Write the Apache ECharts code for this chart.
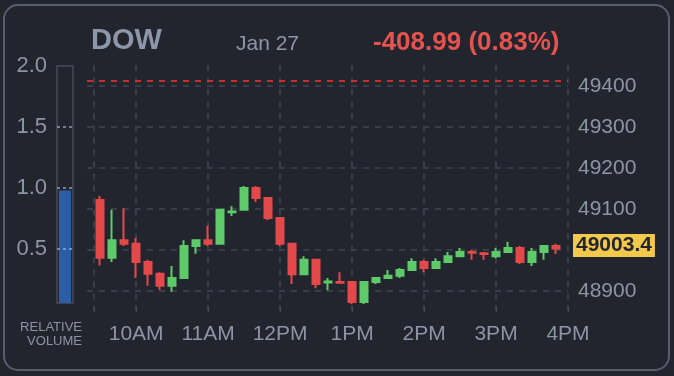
<!DOCTYPE html>
<html>
<head>
<meta charset="utf-8">
<script src="https://cdn.jsdelivr.net/npm/echarts@6/dist/echarts.min.js"></script>
<style>
  html, body { margin: 0; padding: 0; background: #22252e; }
  #main { width: 674px; height: 376px; }
</style>
</head>
<body>
<div id="main"></div>
<script>
// 10 minute candles, 9:30 to 15:50
const times = ['9:30', '9:40', '9:50', '10:00', '10:10', '10:20', '10:30', '10:40', '10:50',
  '11:00', '11:10', '11:20', '11:30', '11:40', '11:50', '12:00', '12:10', '12:20', '12:30',
  '12:40', '12:50', '13:00', '13:10', '13:20', '13:30', '13:40', '13:50', '14:00', '14:10',
  '14:20', '14:30', '14:40', '14:50', '15:00', '15:10', '15:20', '15:30', '15:40', '15:50']
const opens = [49122, 48981, 49024, 49015, 48971, 48942, 48913, 48932, 49010,
  49024, 49015, 49092, 49098, 49151, 49127, 49078, 49015, 48941, 48976,
  48921, 48922, 48922, 48873, 48922, 48932, 48937, 48951, 48971, 48956,
  48971, 48985, 48995, 48992, 48985, 48995, 49005, 48971, 48995, 49010]
const closes = [48981, 49024, 49015, 48971, 48942, 48913, 48932, 49010, 49024,
  49015, 49098, 49094, 49151, 49127, 49078, 49015, 48941, 48976, 48917,
  48923, 48920, 48873, 48922, 48932, 48937, 48951, 48971, 48956, 48971,
  48985, 48995, 48993, 48990, 48995, 49005, 48971, 48995, 49010, 49003.4]
const lows = [48962, 48971, 49010, 48932, 48913, 48903, 48898, 48932, 48991,
  49010, 49015, 49083, 49098, 49117, 49073, 49010, 48917, 48941, 48907,
  48902, 48920, 48868, 48868, 48917, 48932, 48932, 48951, 48946, 48956,
  48971, 48985, 48976, 48976, 48980, 48995, 48966, 48961, 48976, 48990]
const highs = [49132, 49098, 49102, 49029, 48976, 48946, 48961, 49024, 49024,
  49059, 49098, 49107, 49156, 49156, 49127, 49078, 49015, 48985, 48976,
  48932, 48946, 48922, 48922, 48932, 48951, 48956, 48980, 48976, 48980,
  48995, 49005, 49000, 48995, 49005, 49020, 49010, 49005, 49010, 49015]

const priceTicks = [48900, 49000, 49100, 49200, 49300, 49400]
const hourTicks = ['10:00', '11:00', '12:00', '13:00', '14:00', '15:00', '16:00']
const volumeTicks = [0.5, 1.0, 1.5, 2.0]

const symbol = 'DOW'
const dateText = 'Jan 27'
const changeText = '-408.99 (0.83%)'
const prevClose = 49412.39
const lastPrice = 49003.4
const relativeVolume = 0.98

const font = 'Liberation Sans, Arial, sans-serif'
const labelColor = '#8d94a6'
const gridColor = '#393d49'
const up = '#5fca6a'
const down = '#e4494a'

function toMin(t) {
  const p = t.split(':')
  return +p[0] * 60 + +p[1]
}
function hourLabel(v) {
  const h = Math.round(v / 60)
  if (h === 12) return '12PM'
  return h > 12 ? (h - 12) + 'PM' : h + 'AM'
}

const candles = times.map((t, i) => [toMin(t), opens[i], closes[i], lows[i], highs[i]])

const chart = echarts.init(document.getElementById('main'))
chart.setOption({
  backgroundColor: '#22252e',
  animation: false,
  textStyle: { fontFamily: font },
  title: [
    { text: symbol, left: 86, top: 21, textStyle: { color: '#8e96a9', fontSize: 29, fontWeight: 'bold', fontFamily: font } },
    { text: dateText, left: 231, top: 29, textStyle: { color: '#8e96a9', fontSize: 21, fontWeight: 'normal', fontFamily: font } },
    { text: changeText, left: 368, top: 25, textStyle: { color: '#e5534f', fontSize: 26, fontWeight: 'bold', fontFamily: font } }
  ],
  graphic: [
    {
      type: 'rect',
      shape: { x: 4, y: 5, width: 665, height: 365, r: 14 },
      style: { fill: 'none', stroke: '#585d6c', lineWidth: 2 },
      silent: true
    },
    {
      type: 'text',
      x: 82,
      y: 320,
      style: {
        text: 'RELATIVE\nVOLUME',
        align: 'right',
        verticalAlign: 'top',
        fill: labelColor,
        font: '13px ' + font,
        lineHeight: 14
      }
    }
  ],
  grid: [
    { left: 87, right: 106, top: 65.5, bottom: 64.5 },
    { left: 57, width: 16, top: 66, bottom: 73, show: true, borderColor: '#3d414d', borderWidth: 2, backgroundColor: 'transparent' }
  ],
  xAxis: [
    {
      type: 'value',
      gridIndex: 0,
      min: 559,
      max: 960,
      axisLine: { show: false },
      axisTick: { show: true, inside: true, length: 4, lineStyle: { color: '#4a4e5a' }, customValues: [565].concat(hourTicks.map(toMin)) },
      axisLabel: { color: labelColor, fontSize: 21, margin: 12, formatter: hourLabel, customValues: hourTicks.map(toMin) },
      splitLine: { show: true, lineStyle: { color: gridColor, type: [6, 6], width: 2 } }
    },
    {
      type: 'category',
      gridIndex: 1,
      data: ['vol'],
      show: false
    }
  ],
  yAxis: [
    {
      type: 'value',
      gridIndex: 0,
      position: 'right',
      min: 48850,
      max: 49450,
      axisLine: { show: false },
      axisTick: { show: false, customValues: priceTicks },
      axisLabel: {
        color: labelColor,
        fontSize: 21,
        margin: 10,
        customValues: priceTicks,
        formatter: v => (v === 49000 ? '' : String(v))
      },
      splitLine: { show: true, lineStyle: { color: gridColor, type: [6, 6], width: 2 } }
    },
    {
      type: 'value',
      gridIndex: 1,
      position: 'left',
      min: 0.06,
      max: 2.0,
      axisLine: { show: false },
      axisTick: { show: false, customValues: volumeTicks },
      axisLabel: { color: labelColor, fontSize: 22, margin: 10, customValues: volumeTicks, formatter: v => v.toFixed(1) },
      splitLine: { show: false }
    }
  ],
  series: [
    {
      type: 'candlestick',
      xAxisIndex: 0,
      yAxisIndex: 0,
      data: candles,
      barWidth: 8,
      itemStyle: {
        color: up,
        color0: down,
        borderColor: up,
        borderColor0: down,
        borderWidth: 2
      },
      markLine: {
        silent: true,
        symbol: 'none',
        animation: false,
        data: [
          {
            yAxis: prevClose,
            lineStyle: { color: '#c8302c', type: [6, 6], width: 2 },
            label: { show: false }
          },
          {
            yAxis: lastPrice,
            lineStyle: { color: 'rgba(0,0,0,0)', width: 0 },
            label: {
              show: true,
              position: 'end',
              distance: 5,
              offset: [0, -3],
              formatter: String(lastPrice),
              backgroundColor: '#f2c94c',
              color: '#23262f',
              fontWeight: 'bold',
              fontSize: 21,
              fontFamily: font,
              padding: [2, 3, 0, 3]
            }
          }
        ]
      }
    },
    {
      type: 'bar',
      xAxisIndex: 1,
      yAxisIndex: 1,
      data: [relativeVolume],
      barWidth: 12,
      itemStyle: { color: '#2c5ea5' },
      markLine: {
        silent: true,
        symbol: 'none',
        animation: false,
        label: { show: false },
        lineStyle: { color: 'rgba(190,196,212,0.55)', type: [3, 3], width: 2 },
        data: [{ yAxis: 0.5 }, { yAxis: 1.0 }, { yAxis: 1.5 }]
      }
    }
  ]
})
</script>
</body>
</html>
